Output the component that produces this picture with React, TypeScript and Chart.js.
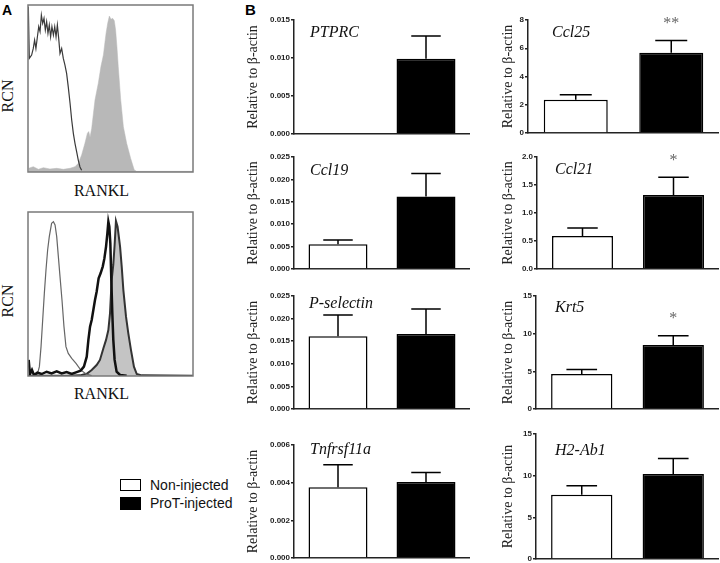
import React, { useEffect, useRef } from 'react';
import { Chart, registerables } from 'chart.js';
Chart.register(...registerables);

// ---------- Panel B data ----------
const GROUPS = ['Non-injected', 'ProT-injected'];
const BAR_FILL = ['#ffffff', '#000000'];

const PTPRC_MEAN = [0, 0.0099];
const PTPRC_SEM = [0, 0.003];
const PTPRC_TICKS = [0, 0.005, 0.01, 0.015];
const PTPRC_SIG = ['', ''];

const CCL25_MEAN = [2.35, 5.69];
const CCL25_SEM = [0.35, 0.85];
const CCL25_TICKS = [0, 2, 4, 6, 8];
const CCL25_SIG = ['', '**'];

const CCL19_MEAN = [0.0055, 0.0162];
const CCL19_SEM = [0.001, 0.0051];
const CCL19_TICKS = [0, 0.005, 0.01, 0.015, 0.02, 0.025];
const CCL19_SIG = ['', ''];

const CCL21_MEAN = [0.59, 1.32];
const CCL21_SEM = [0.14, 0.32];
const CCL21_TICKS = [0, 0.5, 1, 1.5, 2];
const CCL21_SIG = ['', '*'];

const SELP_MEAN = [0.0161, 0.0166];
const SELP_SEM = [0.0047, 0.0055];
const SELP_TICKS = [0, 0.005, 0.01, 0.015, 0.02, 0.025];
const SELP_SIG = ['', ''];

const KRT5_MEAN = [4.66, 8.49];
const KRT5_SEM = [0.57, 1.23];
const KRT5_TICKS = [0, 5, 10, 15];
const KRT5_SIG = ['', '*'];

const TNFRSF11A_MEAN = [0.00376, 0.00403];
const TNFRSF11A_SEM = [0.00119, 0.00051];
const TNFRSF11A_TICKS = [0, 0.002, 0.004, 0.006];
const TNFRSF11A_SIG = ['', ''];

const H2AB1_MEAN = [7.7, 10.2];
const H2AB1_SEM = [1.1, 1.85];
const H2AB1_TICKS = [0, 5, 10, 15];
const H2AB1_SIG = ['', ''];

// ---------- Panel A data (histograms, % of max on a 0-100 channel scale) ----------
const TOP_CTRL_X = [0.2, 0.8, 2.2, 3.2, 4.0, 4.8, 5.7, 6.5, 7.3, 8.1, 8.9, 9.7, 10.5, 11.3, 12.1, 12.9, 13.7, 14.5, 15.4, 16.2, 17.0, 17.8, 18.6, 19.4, 20.4, 21.4, 22.4, 23.4, 24.4, 25.5, 26.5, 27.5, 28.5, 29.5, 30.5, 31.5, 32.5];
const TOP_CTRL_Y = [99, 68, 70, 74, 79, 74, 81, 87, 84, 94, 89, 92, 85, 90, 83, 88, 81, 87, 82, 87, 81, 88, 80, 71, 74, 68, 64, 59, 51, 41, 31, 23, 17, 12, 7, 3, 1];

const TOP_STAIN_X = [0.4, 3.2, 6.3, 9.3, 13.3, 17.4, 21.4, 25.5, 28.5, 30.5, 32.5, 34.5, 36.0, 36.8, 37.6, 38.6, 40.6, 42.6, 44.2, 45.7, 47.3, 48.3, 49.3, 50.3, 51.3, 52.3, 53.1, 53.9, 54.7, 56.2, 57.8, 59.8, 62.2, 64.4, 65.9, 100];
const TOP_STAIN_Y = [2.2, 3.2, 1.6, 2.6, 1.8, 2.2, 1.6, 2.2, 3.2, 5.2, 10.2, 17.2, 23.2, 24.2, 20.8, 26.1, 43.1, 53.1, 63.1, 70.1, 83.0, 89.0, 93.4, 91.4, 92.0, 90.6, 85.0, 75.0, 63.1, 43.1, 27.1, 17.2, 8.2, 1.2, 0.4, 0.4];

const BOT_CTRL_X = [3.2, 5.7, 6.9, 7.9, 8.9, 9.9, 10.9, 11.9, 12.9, 14.3, 15.4, 16.4, 17.4, 18.4, 19.4, 20.6, 21.8, 23.0, 24.4, 26.5, 29.1, 31.9, 35.2, 38.6];
const BOT_CTRL_Y = [0.4, 1.2, 5.7, 17.9, 34.1, 50.4, 64.6, 76.8, 85.0, 93.1, 94.1, 92.1, 85.0, 72.8, 60.6, 46.3, 30.1, 17.9, 13.8, 10.8, 7.7, 3.7, 1.2, 0.2];

const BOT_PROT_X = [0.4, 1.2, 2.4, 3.6, 5.7, 8.3, 11.3, 14.3, 17.4, 20.4, 23.4, 26.5, 29.5, 31.9, 33.9, 35.6, 36.6, 37.6, 38.6, 39.6, 40.6, 41.6, 42.8, 44.0, 45.3, 46.3, 47.3, 48.1, 48.7, 49.3, 49.9, 50.5, 51.1, 51.7, 52.5, 53.7, 55.8, 59.8];
const BOT_PROT_Y = [9.8, 1.2, 3.7, 0.6, 2.0, 1.2, 2.6, 1.6, 2.8, 1.6, 2.4, 1.2, 2.4, 3.3, 5.7, 11.8, 22.0, 30.1, 34.1, 40.2, 46.3, 51.4, 59.6, 62.6, 66.7, 71.7, 78.9, 87.0, 94.1, 91.1, 80.9, 58.5, 38.2, 22.0, 9.8, 2.6, 0.6, 0.2];

const BOT_STAIN_X = [0, 23.4, 31.5, 36.0, 38.6, 41.6, 43.6, 45.7, 47.3, 48.7, 49.7, 50.7, 51.7, 52.5, 53.3, 54.3, 55.8, 56.8, 57.8, 59.4, 60.8, 62.4, 64.2, 65.9, 68.9, 100];
const BOT_STAIN_Y = [0.2, 0.2, 0.4, 1.6, 3.7, 6.7, 9.8, 16.9, 22.0, 28.0, 38.2, 58.5, 68.0, 80.0, 94.5, 91.0, 78.9, 66.7, 52.4, 36.2, 26.0, 15.9, 5.7, 1.2, 0.4, 0.2];

const SERIF = '"Liberation Serif", "Times New Roman", serif';
const SANS = '"Liberation Sans", Arial, sans-serif';

// layout of the bar panels (page pixel positions of each plot area)
const BAR_PANELS = [
  { gene: 'PTPRC', mean: PTPRC_MEAN, sem: PTPRC_SEM, ticks: PTPRC_TICKS, dec: 3, sig: PTPRC_SIG, area: [294, 20, 470, 134], canvasLeft: 236, titlePad: 8.6, label: [310, 32] },
  { gene: 'Ccl25', mean: CCL25_MEAN, sem: CCL25_SEM, ticks: CCL25_TICKS, dec: 0, sig: CCL25_SIG, area: [528, 20, 719, 133], canvasLeft: 490, titlePad: 9.6, label: [552, 32] },
  { gene: 'Ccl19', mean: CCL19_MEAN, sem: CCL19_SEM, ticks: CCL19_TICKS, dec: 3, sig: CCL19_SIG, area: [294, 157, 470, 269], canvasLeft: 236, titlePad: 8.6, label: [310, 170] },
  { gene: 'Ccl21', mean: CCL21_MEAN, sem: CCL21_SEM, ticks: CCL21_TICKS, dec: 1, sig: CCL21_SIG, area: [537, 157, 719, 269], canvasLeft: 490, titlePad: 9.6, label: [555, 169] },
  { gene: 'P-selectin', mean: SELP_MEAN, sem: SELP_SEM, ticks: SELP_TICKS, dec: 3, sig: SELP_SIG, area: [294, 296, 470, 409], canvasLeft: 236, titlePad: 8.6, label: [309, 303] },
  { gene: 'Krt5', mean: KRT5_MEAN, sem: KRT5_SEM, ticks: KRT5_TICKS, dec: 0, sig: KRT5_SIG, area: [536, 296, 719, 409], canvasLeft: 490, titlePad: 9.6, label: [555, 307] },
  { gene: 'Tnfrsf11a', mean: TNFRSF11A_MEAN, sem: TNFRSF11A_SEM, ticks: TNFRSF11A_TICKS, dec: 3, sig: TNFRSF11A_SIG, area: [294, 445, 470, 558], canvasLeft: 236, titlePad: 8.6, label: [310, 449] },
  { gene: 'H2-Ab1', mean: H2AB1_MEAN, sem: H2AB1_SEM, ticks: H2AB1_TICKS, dec: 0, sig: H2AB1_SIG, area: [536, 434, 719, 559], canvasLeft: 490, titlePad: 9.6, label: [555, 450] },
];

const PAD_T = 10;
const PAD_B = 8;

function BarPanel({ p }: { p: any }) {
  const ref = useRef<HTMLCanvasElement>(null);
  const [l, t, r, b] = p.area;
  const yW = l - p.canvasLeft;
  const cw = r - p.canvasLeft;
  const ch = PAD_T + (b - t) + PAD_B;
  const cTop = t - PAD_T;

  useEffect(() => {
    const overlay = {
      id: 'errAndLabels',
      afterDatasetsDraw(chart: any) {
        const ctx = chart.ctx;
        const ys = chart.scales.y;
        const meta = chart.getDatasetMeta(0);
        ctx.save();
        meta.data.forEach((bar: any, i: number) => {
          const m = p.mean[i];
          const e = p.sem[i];
          if (m == null || !e) return;
          const yBar = ys.getPixelForValue(m);
          const yTop = ys.getPixelForValue(m + e);
          const half = bar.width / 4;
          ctx.strokeStyle = '#000';
          ctx.lineWidth = 1.5;
          ctx.beginPath();
          ctx.moveTo(bar.x, yBar);
          ctx.lineTo(bar.x, yTop);
          ctx.moveTo(bar.x - half, yTop);
          ctx.lineTo(bar.x + half, yTop);
          ctx.stroke();
          if (p.sig[i]) {
            ctx.font = '16px ' + SERIF;
            ctx.fillStyle = '#666';
            ctx.textAlign = 'center';
            ctx.textBaseline = 'alphabetic';
            ctx.fillText(p.sig[i], bar.x, yTop - 20 + 7.5);
          }
        });
        ctx.font = 'italic 16px ' + SERIF;
        ctx.fillStyle = '#111';
        ctx.textAlign = 'left';
        ctx.textBaseline = 'alphabetic';
        ctx.fillText(p.gene, p.label[0] - p.canvasLeft, p.label[1] - cTop + 5.3);
        ctx.restore();
      },
    };

    const chart = new Chart(ref.current as HTMLCanvasElement, {
      type: 'bar',
      data: {
        labels: GROUPS,
        datasets: [
          {
            data: p.mean,
            backgroundColor: BAR_FILL,
            borderColor: '#000',
            borderWidth: 1.5,
            barPercentage: 0.67,
            categoryPercentage: 1,
          },
        ],
      },
      options: {
        animation: false,
        responsive: false,
        maintainAspectRatio: false,
        layout: { padding: { top: PAD_T, bottom: PAD_B, left: 0, right: 0 } },
        plugins: { legend: { display: false }, tooltip: { enabled: false } },
        scales: {
          x: {
            grid: { display: false },
            ticks: { display: false },
            border: { display: true, color: '#222', width: 1.5 },
            afterFit: (s: any) => {
              s.height = 0;
            },
          },
          y: {
            min: 0,
            max: p.ticks[p.ticks.length - 1],
            afterBuildTicks: (s: any) => {
              s.ticks = p.ticks.map((v: number) => ({ value: v }));
            },
            ticks: {
              callback: (v: any) => Number(v).toFixed(p.dec),
              font: { family: SANS, weight: 'bold', size: 8 },
              color: '#222',
              padding: 1,
            },
            grid: {
              display: true,
              drawOnChartArea: false,
              drawTicks: true,
              tickLength: 3,
              color: '#222',
              lineWidth: 1.5,
            },
            border: { display: true, color: '#222', width: 1.5 },
            title: {
              display: true,
              text: 'Relative to β-actin',
              font: { family: SERIF, size: 14 },
              color: '#222',
              padding: { top: p.titlePad, bottom: 0 },
            },
            afterFit: (s: any) => {
              s.width = yW;
            },
          },
        },
      } as any,
      plugins: [overlay],
    });
    return () => chart.destroy();
  }, []);

  return (
    <canvas
      ref={ref}
      width={cw}
      height={ch}
      style={{ position: 'absolute', left: p.canvasLeft, top: cTop, width: cw, height: ch }}
    />
  );
}

const zip = (xs: number[], ys: number[]) => xs.map((x, i) => ({ x, y: ys[i] }));

function HistPanel({ area, datasets }: { area: number[]; datasets: any[] }) {
  const ref = useRef<HTMLCanvasElement>(null);
  const [l, t, r, b] = area;
  const pad = 2;
  const cw = r - l + pad * 2;
  const ch = b - t + pad * 2;
  useEffect(() => {
    const box = {
      id: 'box',
      afterDraw(chart: any) {
        const { left, top, right, bottom } = chart.chartArea;
        const ctx = chart.ctx;
        ctx.save();
        ctx.strokeStyle = '#7a7a7a';
        ctx.lineWidth = 1.5;
        ctx.strokeRect(left, top, right - left, bottom - top);
        ctx.restore();
      },
    };
    const chart = new Chart(ref.current as HTMLCanvasElement, {
      type: 'scatter',
      data: { datasets },
      options: {
        animation: false,
        responsive: false,
        maintainAspectRatio: false,
        layout: { padding: pad },
        plugins: { legend: { display: false }, tooltip: { enabled: false } },
        scales: {
          x: { type: 'linear', min: 0, max: 100, display: false },
          y: { min: 0, max: 100, display: false },
        },
      } as any,
      plugins: [box],
    });
    return () => chart.destroy();
  }, []);
  return (
    <canvas
      ref={ref}
      width={cw}
      height={ch}
      style={{ position: 'absolute', left: l - pad, top: t - pad, width: cw, height: ch }}
    />
  );
}

const lineDs = (xs: number[], ys: number[], color: string, width: number) => ({
  data: zip(xs, ys),
  showLine: true,
  borderColor: color,
  borderWidth: width,
  pointRadius: 0,
  tension: 0,
  fill: false,
});

const fillDs = (xs: number[], ys: number[], fillColor: string, edge: string, width: number) => ({
  data: zip(xs, ys),
  showLine: true,
  borderColor: edge,
  borderWidth: width,
  backgroundColor: fillColor,
  pointRadius: 0,
  tension: 0,
  fill: 'origin',
});

function Text({ x, y, children, style, rotate }: any) {
  return (
    <div
      style={{
        position: 'absolute',
        left: x,
        top: y,
        transform: 'translate(-50%, -50%)' + (rotate ? ' rotate(-90deg)' : ''),
        whiteSpace: 'nowrap',
        lineHeight: 1,
        ...style,
      }}
    >
      {children}
    </div>
  );
}

export default function App() {
  const serif16 = { fontFamily: SERIF, fontSize: 16, color: '#111' };
  return (
    <div
      style={{
        position: 'absolute',
        left: 0,
        top: 0,
        width: 720,
        height: 563,
        overflow: 'hidden',
        background: '#fff',
      }}
    >
      <div style={{ position: 'absolute', left: 2, top: 2, fontFamily: SANS, fontWeight: 'bold', fontSize: 14, lineHeight: '16px' }}>A</div>
      <div style={{ position: 'absolute', left: 245, top: 2, fontFamily: SANS, fontWeight: 'bold', fontSize: 15, lineHeight: '16px' }}>B</div>

      <HistPanel
        area={[28, 5, 193, 172]}
        datasets={[
          lineDs(TOP_CTRL_X, TOP_CTRL_Y, '#3a3a3a', 1.2),
          fillDs(TOP_STAIN_X, TOP_STAIN_Y, '#b8b8b8', '#b8b8b8', 0.5),
        ]}
      />
      <Text x={8} y={96} rotate style={serif16}>RCN</Text>
      <Text x={101.5} y={191} style={serif16}>RANKL</Text>

      <HistPanel
        area={[28, 212, 193, 376]}
        datasets={[
          lineDs(BOT_PROT_X, BOT_PROT_Y, '#111', 2.5),
          lineDs(BOT_CTRL_X, BOT_CTRL_Y, '#666', 1.2),
          fillDs(BOT_STAIN_X, BOT_STAIN_Y, '#c4c4c4', '#333', 2),
        ]}
      />
      <Text x={8} y={301} rotate style={serif16}>RCN</Text>
      <Text x={101.5} y={394} style={serif16}>RANKL</Text>

      {BAR_PANELS.map((p) => (
        <BarPanel key={p.gene} p={p} />
      ))}

      <div style={{ position: 'absolute', left: 120, top: 479, width: 21, height: 12, border: '1.5px solid #000', boxSizing: 'border-box', background: '#fff' }} />
      <div style={{ position: 'absolute', left: 120, top: 497, width: 21, height: 13, background: '#000' }} />
      <div style={{ position: 'absolute', left: 150, top: 477, fontFamily: SANS, fontSize: 14, lineHeight: '16px', color: '#111', whiteSpace: 'nowrap' }}>{GROUPS[0]}</div>
      <div style={{ position: 'absolute', left: 150, top: 495, fontFamily: SANS, fontSize: 14, lineHeight: '16px', color: '#111', whiteSpace: 'nowrap' }}>{GROUPS[1]}</div>
    </div>
  );
}
